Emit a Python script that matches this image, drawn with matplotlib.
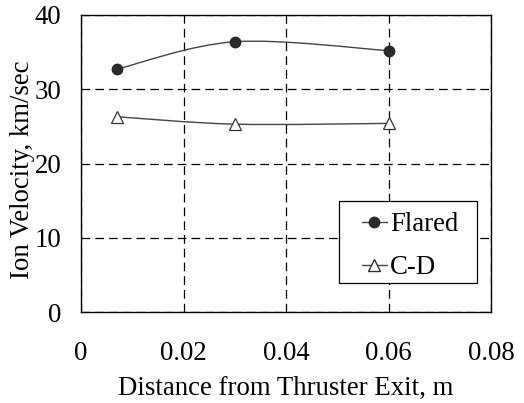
#!/usr/bin/env python3

import matplotlib
matplotlib.use("Agg")
import matplotlib.pyplot as plt
from matplotlib.path import Path
from matplotlib.patches import PathPatch, Rectangle
from matplotlib.lines import Line2D

distance = [0.007, 0.03, 0.06]
flared = [32.7, 36.4, 35.2]
cd = [26.3, 25.3, 25.4]
x_ticks = [0, 0.02, 0.04, 0.06, 0.08]
x_labels = ["0", "0.02", "0.04", "0.06", "0.08"]
y_ticks = [0, 10, 20, 30, 40]

plt.rcParams["font.family"] = "serif"
plt.rcParams["font.serif"] = ["Liberation Serif", "TeX Gyre Termes", "DejaVu Serif"]

W, H = 524, 403
FS = 19.3


def smooth_path(xs, ys):
    # excel style smoothed line: bezier segments through the data points
    pts = list(zip(xs, ys))
    verts = [pts[0]]
    codes = [Path.MOVETO]
    n = len(pts)
    for i in range(n - 1):
        p0 = pts[i - 1] if i > 0 else pts[i]
        p1 = pts[i]
        p2 = pts[i + 1]
        p3 = pts[i + 2] if i + 2 < n else pts[i + 1]
        c1 = (p1[0] + (p2[0] - p0[0]) / 6, p1[1] + (p2[1] - p0[1]) / 6)
        c2 = (p2[0] - (p3[0] - p1[0]) / 6, p2[1] - (p3[1] - p1[1]) / 6)
        verts += [c1, c2, p2]
        codes += [Path.CURVE4] * 3
    return Path(verts, codes)


fig = plt.figure(figsize=(W / 100, H / 100), dpi=100)
ax = fig.add_axes([81 / W, 1 - 312 / H, 410 / W, 297 / H])

for ys in (flared, cd):
    ax.add_patch(PathPatch(smooth_path(distance, ys), fill=False,
                           edgecolor="#444444", lw=1.0, zorder=3))

ax.plot(distance, flared, linestyle="none", marker="o", ms=7.5,
        color="#2a2a2a", zorder=4)
ax.plot(distance, cd, linestyle="none", marker="^", ms=8,
        mfc="white", mec="#333333", mew=0.9, zorder=4)

ax.set_xlim(0, 0.08)
ax.set_ylim(0, 40)
ax.set_xticks(x_ticks)
ax.set_xticklabels(x_labels)
ax.set_yticks(y_ticks)
ax.tick_params(axis="both", length=0, labelsize=FS)
ax.tick_params(axis="x", pad=21)
ax.tick_params(axis="y", pad=14)
ax.grid(True, color="black", lw=0.9, linestyle=(0, (7, 4)))
for s in ax.spines.values():
    s.set_linewidth(1.0)
    s.set_color("black")

ax.set_xlabel("Distance from Thruster Exit, m", fontsize=FS, labelpad=7)
ax.set_ylabel("Ion Velocity, km/sec", fontsize=FS, labelpad=0)
ax.yaxis.label.set_y(0.478)

# legend box drawn by hand so the padding matches
fig.patches.append(Rectangle((339 / W, 1 - 283 / H), 138 / W, 82 / H,
                             transform=fig.transFigure, facecolor="white",
                             edgecolor="black", lw=0.9, zorder=5))

handles = [
    Line2D([], [], color="#444444", lw=1.0, marker="o", ms=7.5,
           mfc="#2a2a2a", mec="#2a2a2a"),
    Line2D([], [], color="#444444", lw=1.0, marker="^", ms=8,
           mfc="white", mec="#333333"),
]
leg = fig.legend(handles, ["Flared", "C-D"], loc="center",
                 bbox_to_anchor=(410 / W, 1 - 246 / H), fontsize=FS,
                 frameon=False, handlelength=0.95, handletextpad=0.12,
                 labelspacing=0.68, borderpad=0, borderaxespad=0)
leg.set_zorder(6)

fig.savefig("out.png", dpi=100)
